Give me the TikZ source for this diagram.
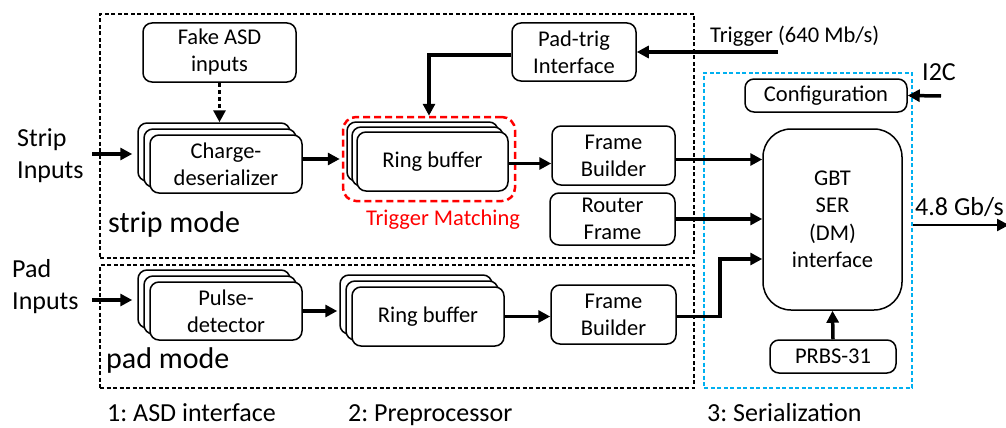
\documentclass[tikz,border=0pt]{standalone}
\usepackage{fontspec}
\setmainfont{Carlito}
\usetikzlibrary{arrows.meta}
\definecolor{tmred}{RGB}{255,0,0}
\definecolor{serblue}{RGB}{0,176,240}
\frenchspacing
\newcommand\bxfont{\fontsize{22.5}{27}\selectfont}
\newcommand\bigfont{\fontsize{26}{32}\selectfont}
\newcommand\modefont{\fontsize{30}{36}\selectfont}
% #1 name, #2 cx, #3 cy, #4 w, #5 h, #6 offset, #7 text
\newcommand\stk[7]{%
  \node[box, minimum width=#4pt, minimum height=#5pt] (#1-b2) at ({#2-2*#6},{#3-2*#6}) {};
  \node[box, minimum width=#4pt, minimum height=#5pt] (#1-b1) at ({#2-#6},{#3-#6}) {};
  \node[box, minimum width=#4pt, minimum height=#5pt] (#1) at (#2,#3) {#7};
}
\begin{document}
\begin{tikzpicture}[x=1pt,y=-1pt,
  box/.style={draw, line width=1.5pt, rounded corners=9pt, fill=white, align=center, inner sep=0pt, font=\bxfont},
  arr/.style={line width=3.5pt, -{Triangle[length=12pt,width=12pt]}},
  dotarr/.style={line width=3pt, dash pattern=on 4pt off 3pt, -{Triangle[length=12pt,width=12pt]}},
  region/.style={draw, line width=1.2pt, dash pattern=on 4pt off 2.5pt, inner sep=0pt},
  lbl/.style={font=\bigfont, inner sep=0pt, align=left},
  mlbl/.style={font=\bxfont, inner sep=0pt}]
\useasboundingbox (0,0) rectangle (1006,428);

% regions
\node[region, minimum width=594pt, minimum height=244pt] (stripR) at (397,136) {};
\node[region, minimum width=594pt, minimum height=123pt] (padR) at (397,326.5) {};
\node[region, draw=serblue, minimum width=208pt, minimum height=315pt] (serR) at (808,230.5) {};

% strip row
\node[box, minimum width=153pt, minimum height=59pt] (fake) at (219.5,52.5) {Fake ASD\\inputs};
\stk{chg}{226}{164}{152}{58}{6}{Charge-\\deserializer}
\stk{ringS}{432.5}{161.5}{151}{59}{5}{Ring buffer}
\node[draw=tmred, line width=2.5pt, dash pattern=on 7pt off 4pt, rounded corners=13pt,
      minimum width=172pt, minimum height=84pt, inner sep=0pt] (tm) at (429,159) {};
\node[box, minimum width=124pt, minimum height=58pt] (padtrig) at (574,52) {Pad-trig\\Interface};
\node[box, minimum width=123pt, minimum height=59pt] (fbS) at (613.5,155.5) {Frame\\Builder};
\node[box, minimum width=125pt, minimum height=52pt] (router) at (612.5,219) {Router\\Frame};

% pad row
\stk{pulse}{226}{311}{152}{58}{6}{Pulse-\\detector}
\stk{ringP}{428}{316.5}{152}{59}{6}{Ring buffer}
\node[box, minimum width=125pt, minimum height=59pt] (fbP) at (613.5,314.5) {Frame\\Builder};

% serialization
\node[box, rounded corners=28pt, minimum width=139pt, minimum height=181pt, font=\fontsize{22.5}{27.5}\selectfont] (gbt) at (832.5,219.5) {GBT\\SER\\(DM)\\interface};
\node[box, minimum width=162pt, minimum height=33pt] (config) at (826,95.5) {Configuration};
\node[box, minimum width=126pt, minimum height=33pt] (prbs) at (833,356.5) {PRBS-31};

% labels
\node[lbl, anchor=west] (sin) at (17,156) {Strip\\Inputs};
\node[lbl, anchor=west] (pin) at (12,287) {Pad\\Inputs};
\node[lbl, font=\modefont, anchor=base west] (smode) at (108,232) {strip mode};
\node[lbl, font=\modefont, anchor=base west] (pmode) at (106,368) {pad mode};
\node[lbl, anchor=base west] (l1) at (107,421) {1: ASD interface};
\node[lbl, anchor=base west] (l2) at (348,421) {2: Preprocessor};
\node[lbl, anchor=base west] (l3) at (707,421) {3: Serialization};
\node[mlbl, anchor=base, text=tmred] (tmlbl) at (443,225) {Trigger Matching};
\node[mlbl, anchor=base west] (triglbl) at (710,43) {Trigger (640 Mb/s)};
\node[lbl, anchor=base west] (i2clbl) at (922,80) {I2C};
\node[lbl, anchor=base west] (outlbl) at (915,215) {4.8 Gb/s};

% free ends
\coordinate (sinE) at (92,154);
\coordinate (pinE) at (92,300);
\coordinate (trigin) at (778,52);
\coordinate (i2cin) at (941,96);
\coordinate (outE) at (1009,225);
\coordinate (bend) at (720,259);

% connectors
\draw[dotarr] (fake.south) -- (fake.south |- chg-b2.north);
\draw[arr, shorten >=5pt] (sinE) -- (sinE -| chg-b2.west);
\draw[arr, shorten >=2pt] ([yshift=5pt]chg.east) -- ([yshift=5pt]chg.east -| tm.west);
\draw[arr] ([yshift=-3pt]padtrig.west) -| (tm.north);
\draw[arr] (trigin) -- (padtrig.east);
\draw[arr] ([yshift=-2pt]ringS.east) -- ([yshift=-2pt]ringS.east -| fbS.west);
\draw[arr] ([yshift=-4pt]fbS.east) -- ([yshift=-4pt]fbS.east -| gbt.west);
\draw[arr] (router.east) -- (router.east -| gbt.west);
\draw[arr, shorten >=5pt] (pinE) -- (pinE -| pulse-b2.west);
\draw[arr, shorten >=2pt] (pulse.east) -- (pulse.east -| ringP-b2.west);
\draw[arr] (ringP.east) -- (ringP.east -| fbP.west);
\draw[arr, rounded corners=0pt] ([yshift=-2pt]fbP.east) -| (bend) -- (bend -| gbt.west);
\draw[arr] (prbs.north) -- (gbt.south);
\draw[arr] (i2cin) -- (config.east);
\draw[line width=2.5pt, -{Triangle[length=12pt,width=12pt]}] (serR.east |- outE) -- (outE);
\end{tikzpicture}
\end{document}
